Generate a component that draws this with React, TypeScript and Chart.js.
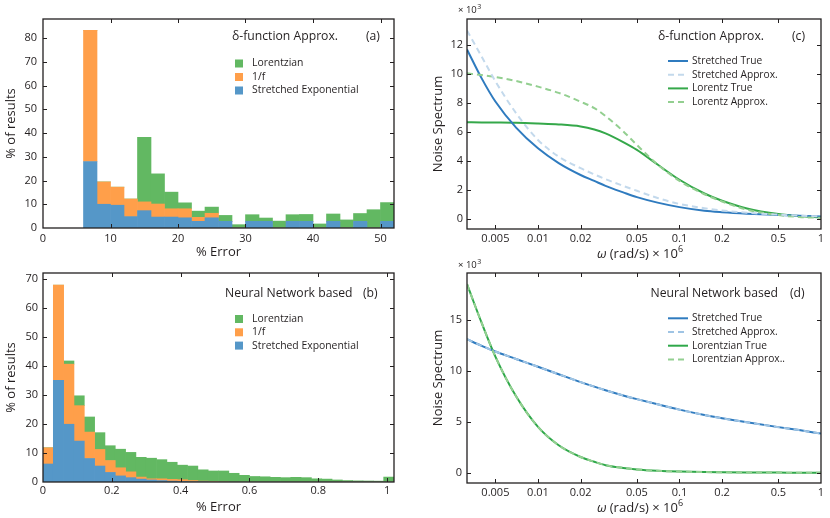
import { useEffect, useRef } from 'react';
import { Chart, registerables } from 'chart.js';

Chart.register(...registerables);

// ---------------- Panel (a): delta-function approx histogram ----------------
const histACenters = [7, 9, 11, 13, 15, 17, 19, 21, 23, 25, 27, 29, 31, 33, 35, 37, 39, 41, 43, 45, 47, 49, 51];
const histAStretched = [28.0, 10.0, 9.6, 4.8, 7.3, 4.6, 4.6, 4.3, 2.8, 4.3, 2.8, 0, 2.8, 2.8, 0, 2.8, 2.8, 0, 2.8, 0, 2.8, 0, 2.8];
const histAOneOverF = [55.2, 9.4, 7.6, 7.4, 3.7, 5.5, 3.5, 3.8, 1.7, 1.9, 0, 0, 0, 0, 0, 0, 0, 0, 0, 0, 0, 0, 0];
const histALorentzian = [0, 0, 0, 0, 27.2, 12.7, 7.0, 2.5, 2.6, 2.6, 2.5, 1.4, 2.8, 1.4, 2.9, 2.8, 2.9, 1.7, 3.1, 3.4, 3.3, 7.7, 7.9];
const histAXTicks = [0, 10, 20, 30, 40, 50];
const histAYTicks = [0, 10, 20, 30, 40, 50, 60, 70, 80];

// ---------------- Panel (b): neural network histogram ----------------
const histBCenters = [0.015, 0.045, 0.075, 0.105, 0.135, 0.165, 0.195, 0.225, 0.255, 0.285, 0.315, 0.345, 0.375, 0.405, 0.435, 0.465, 0.495, 0.525, 0.555, 0.585, 0.615, 0.645, 0.675, 0.705, 0.735, 0.765, 0.795, 0.825, 0.855, 0.885, 0.915, 0.945, 0.975, 1.005];
const histBStretched = [6.2, 35.0, 19.9, 14.1, 8.1, 5.5, 3.3, 2.1, 1.5, 1.0, 0.7, 0.5, 0.3, 0.2, 0.1, 0.1, 0, 0, 0, 0, 0, 0, 0, 0, 0, 0, 0, 0, 0, 0, 0, 0, 0, 0];
const histBOneOverF = [5.6, 32.8, 20.7, 12.2, 9.1, 5.7, 4.1, 2.8, 2.0, 0.7, 0.4, 0.6, 0.6, 0.6, 0.4, 0.2, 0.2, 0.1, 0, 0, 0, 0, 0, 0, 0, 0, 0, 0, 0, 0, 0, 0, 0, 0];
const histBLorentzian = [0, 0, 1.1, 3.4, 5.2, 5.8, 5.1, 6.4, 6.7, 6.8, 7.1, 6.6, 5.9, 5.0, 5.0, 3.9, 3.6, 3.7, 3.0, 2.3, 1.9, 1.8, 1.6, 1.5, 1.6, 1.5, 1.1, 1.0, 0.7, 0.5, 0.4, 0.35, 0.3, 1.7];
const histBXTicks = [0, 0.2, 0.4, 0.6, 0.8, 1];
const histBYTicks = [0, 10, 20, 30, 40, 50, 60, 70];

// ---------------- Panels (c), (d): noise spectra (x 10^3) ----------------
const omega = [0.00315, 0.004, 0.005, 0.007, 0.01, 0.014, 0.02, 0.025, 0.03, 0.04, 0.05, 0.07, 0.1, 0.15, 0.2, 0.3, 0.5, 0.7, 1];
const specCStretchedTrue = [11.7, 9.7, 8.1, 6.3, 4.87, 3.85, 3.03, 2.62, 2.28, 1.83, 1.5, 1.12, 0.81, 0.56, 0.46, 0.36, 0.27, 0.21, 0.17];
const specCStretchedApprox = [13.0, 11.2, 9.5, 7.3, 5.45, 4.3, 3.5, 3.07, 2.74, 2.28, 1.94, 1.44, 1.03, 0.74, 0.58, 0.42, 0.29, 0.22, 0.17];
const specCLorentzTrue = [6.67, 6.66, 6.65, 6.63, 6.58, 6.52, 6.38, 6.17, 5.9, 5.3, 4.76, 3.75, 2.7, 1.75, 1.25, 0.72, 0.33, 0.19, 0.11];
const specCLorentzApprox = [10.05, 9.93, 9.8, 9.52, 9.13, 8.7, 8.09, 7.65, 7.1, 6.05, 5.1, 3.75, 2.62, 1.7, 1.2, 0.64, 0.26, 0.13, 0.07];
const specDStretchedTrue = [13.1, 12.45, 11.9, 11.17, 10.4, 9.67, 8.9, 8.45, 8.1, 7.59, 7.23, 6.72, 6.2, 5.67, 5.35, 4.95, 4.48, 4.19, 3.85];
const specDStretchedApprox = [13.1, 12.45, 11.9, 11.17, 10.4, 9.67, 8.9, 8.45, 8.1, 7.59, 7.23, 6.72, 6.2, 5.67, 5.35, 4.95, 4.48, 4.19, 3.85];
const specDLorentzTrue = [18.5, 14.7, 11.4, 7.5, 4.5, 2.7, 1.55, 1.08, 0.75, 0.48, 0.33, 0.2, 0.12, 0.07, 0.05, 0.03, 0.02, 0.01, 0.0];
const specDLorentzApprox = [18.5, 14.7, 11.4, 7.5, 4.5, 2.7, 1.55, 1.08, 0.75, 0.48, 0.33, 0.2, 0.12, 0.07, 0.05, 0.03, 0.02, 0.01, 0.0];
const omegaTicks = [0.005, 0.01, 0.02, 0.05, 0.1, 0.2, 0.5, 1];
const specCYTicks = [0, 2, 4, 6, 8, 10, 12];
const specDYTicks = [0, 5, 10, 15];

// ---------------- styling ----------------
const FONT = '"Open Sans", Lato, "DejaVu Sans", sans-serif';
const INK = '#231f20';
const BLUE = '#5597c8';
const ORANGE = '#ff9f4a';
const GREEN = '#62b862';

const decorPlugin = {
  id: 'decor',
  afterDraw(chart: any, _args: any, o: any) {
    const { ctx, chartArea: ca } = chart;
    ctx.save();
    ctx.strokeStyle = INK;
    ctx.lineWidth = 1.3;
    ctx.strokeRect(ca.left, ca.top, ca.right - ca.left, ca.bottom - ca.top);
    const xs = chart.scales.x;
    const ys = chart.scales.y;
    const L = 4;
    ctx.lineWidth = 1;
    ctx.beginPath();
    xs.ticks.forEach((t: any) => {
      const px = Math.round(xs.getPixelForValue(t.value)) + 0.5;
      if (px < ca.left + 2 || px > ca.right - 2) return;
      ctx.moveTo(px, ca.bottom);
      ctx.lineTo(px, ca.bottom - L);
      ctx.moveTo(px, ca.top);
      ctx.lineTo(px, ca.top + L);
    });
    ys.ticks.forEach((t: any) => {
      const py = Math.round(ys.getPixelForValue(t.value)) + 0.5;
      if (py < ca.top + 2 || py > ca.bottom - 2) return;
      ctx.moveTo(ca.left, py);
      ctx.lineTo(ca.left + L, py);
      ctx.moveTo(ca.right, py);
      ctx.lineTo(ca.right - L, py);
    });
    ctx.stroke();

    ctx.fillStyle = INK;
    ctx.textBaseline = 'middle';
    ctx.textAlign = 'left';
    ctx.font = `${o.titleSize}px ${FONT}`;
    ctx.fillText(o.title, o.titleX, o.titleY);
    ctx.fillText(o.tag, o.tagX, o.titleY);

    const ds = chart.data.datasets;
    const idx = ds.map((_d: any, i: number) => i);
    if (o.reverse) idx.reverse();
    idx.forEach((di: number, row: number) => {
      const d = ds[di];
      const y = o.legendY + row * o.legendDy;
      if (o.kind === 'box') {
        ctx.fillStyle = d.backgroundColor;
        ctx.fillRect(o.swatchX, y - 4, 8, 8);
      } else {
        ctx.strokeStyle = d.borderColor;
        ctx.lineWidth = 2;
        ctx.setLineDash(d.borderDash || []);
        ctx.beginPath();
        ctx.moveTo(o.swatchX, y);
        ctx.lineTo(o.swatchX + 20, y);
        ctx.stroke();
        ctx.setLineDash([]);
      }
      ctx.fillStyle = INK;
      ctx.font = `${o.legendSize}px ${FONT}`;
      ctx.fillText(d.label, o.textX, y);
    });

    if (o.expX !== undefined) {
      ctx.font = `9.5px ${FONT}`;
      ctx.fillStyle = INK;
      const base = '\u00d7 10';
      ctx.fillText(base, o.expX, o.expY);
      const w = ctx.measureText(base).width;
      ctx.font = `7px ${FONT}`;
      ctx.fillText('3', o.expX + w + 0.5, o.expY - 3);
    }

    if (o.omegaTitleX !== undefined) {
      const parts = [
        { t: '\u03c9', f: `italic 13px ${FONT}`, dy: 0 },
        { t: ' (rad/s) \u00d7 10', f: `13px ${FONT}`, dy: 0 },
        { t: '6', f: `9px ${FONT}`, dy: -5 },
      ];
      let total = 0;
      const widths = parts.map((p) => {
        ctx.font = p.f;
        const w = ctx.measureText(p.t).width;
        total += w;
        return w;
      });
      let x = o.omegaTitleX - total / 2;
      parts.forEach((p, i) => {
        ctx.font = p.f;
        ctx.fillText(p.t, x, o.omegaTitleY + p.dy);
        x += widths[i];
      });
    }
    ctx.restore();
  },
};

function fixedTicks(values: number[]) {
  return (scale: any) => {
    scale.ticks = values.map((v) => ({ value: v }));
  };
}

function axis(opts: {
  type: string; min: number; max: number; ticks: number[]; pad: number;
  title: string; titlePad: any; fit: (s: any) => void; stacked?: boolean; showTitle?: boolean;
}) {
  return {
    type: opts.type,
    min: opts.min,
    max: opts.max,
    offset: false,
    stacked: !!opts.stacked,
    grid: { display: false, drawTicks: false },
    border: { display: false },
    afterBuildTicks: fixedTicks(opts.ticks),
    afterFit: opts.fit,
    ticks: {
      autoSkip: false,
      maxRotation: 0,
      padding: opts.pad,
      color: INK,
      font: { family: FONT, size: 11 },
      callback: (v: any) => String(v),
    },
    title: {
      display: opts.showTitle !== false,
      text: opts.title,
      color: INK,
      font: { family: FONT, size: 13 },
      padding: opts.titlePad,
    },
  };
}

function barDataset(label: string, centers: number[], values: number[], color: string) {
  return {
    label,
    data: centers.map((x, i) => ({ x, y: values[i] })),
    backgroundColor: color,
    borderWidth: 0,
    barPercentage: 1,
    categoryPercentage: 1,
  };
}

function lineDataset(label: string, values: number[], color: string, dashed: boolean) {
  return {
    label,
    data: omega.map((x, i) => ({ x, y: values[i] })),
    borderColor: color,
    backgroundColor: color,
    borderWidth: 2,
    borderDash: dashed ? [6, 4] : [],
    pointRadius: 0,
    cubicInterpolationMode: 'monotone',
    order: dashed ? 1 : 2,
  };
}

const W = 415;
const H = 262;

const PANELS = [
  {
    key: 'a', left: 0, top: 0,
    config: () => ({
      type: 'bar',
      data: {
        datasets: [
          barDataset('Stretched Exponential', histACenters, histAStretched, BLUE),
          barDataset('1/f', histACenters, histAOneOverF, ORANGE),
          barDataset('Lorentzian', histACenters, histALorentzian, GREEN),
        ],
      },
      options: {
        animation: false, responsive: false,
        layout: { padding: { left: 0, top: 19, right: 21, bottom: 0 } },
        scales: {
          x: axis({ type: 'linear', min: 0, max: 52, ticks: histAXTicks, pad: 4, title: '% Error', titlePad: { top: 0, bottom: 2 }, fit: (s) => { s.height = 34; }, stacked: true }),
          y: axis({ type: 'linear', min: 0, max: 88, ticks: histAYTicks, pad: 6, title: '% of results', titlePad: { top: 3, bottom: 0 }, fit: (s) => { s.width = 43; }, stacked: true }),
        },
        plugins: {
          legend: { display: false }, tooltip: { enabled: false },
          decor: { title: '\u03b4-function Approx.', titleX: 232, titleY: 37, tag: '(a)', tagX: 366, titleSize: 12.2, kind: 'box', reverse: true, legendY: 63.5, legendDy: 13.5, swatchX: 235, textX: 252, legendSize: 10.4 },
        },
      },
      plugins: [decorPlugin],
    }),
  },
  {
    key: 'b', left: 0, top: 256,
    config: () => ({
      type: 'bar',
      data: {
        datasets: [
          barDataset('Stretched Exponential', histBCenters, histBStretched, BLUE),
          barDataset('1/f', histBCenters, histBOneOverF, ORANGE),
          barDataset('Lorentzian', histBCenters, histBLorentzian, GREEN),
        ],
      },
      options: {
        animation: false, responsive: false,
        layout: { padding: { left: 0, top: 17, right: 21, bottom: 0 } },
        scales: {
          x: axis({ type: 'linear', min: 0, max: 1.02, ticks: histBXTicks, pad: 2, title: '% Error', titlePad: { top: 0, bottom: 2.5 }, fit: (s) => { s.height = 36; }, stacked: true }),
          y: axis({ type: 'linear', min: 0, max: 72, ticks: histBYTicks, pad: 5, title: '% of results', titlePad: { top: 3, bottom: 0 }, fit: (s) => { s.width = 43; }, stacked: true }),
        },
        plugins: {
          legend: { display: false }, tooltip: { enabled: false },
          decor: { title: 'Neural Network based', titleX: 225, titleY: 37.3, tag: '(b)', tagX: 363, titleSize: 12.2, kind: 'box', reverse: true, legendY: 63, legendDy: 13.3, swatchX: 235, textX: 252, legendSize: 10.4 },
        },
      },
      plugins: [decorPlugin],
    }),
  },
  {
    key: 'c', left: 415, top: 0,
    config: () => ({
      type: 'line',
      data: {
        datasets: [
          lineDataset('Stretched True', specCStretchedTrue, '#2f7bbf', false),
          lineDataset('Stretched Approx.', specCStretchedApprox, '#c3d9ec', true),
          lineDataset('Lorentz True', specCLorentzTrue, '#35a84a', false),
          lineDataset('Lorentz Approx.', specCLorentzApprox, '#93cf90', true),
        ],
      },
      options: {
        animation: false, responsive: false,
        layout: { padding: { left: 0, top: 19, right: 9, bottom: 0 } },
        scales: {
          x: axis({ type: 'logarithmic', min: 0.00315, max: 1, ticks: omegaTicks, pad: 3, title: '', titlePad: 0, fit: (s) => { s.height = 33; }, showTitle: false }),
          y: axis({ type: 'linear', min: -0.7, max: 13.8, ticks: specCYTicks, pad: 4, title: 'Noise Spectrum', titlePad: { top: 15.5, bottom: 0 }, fit: (s) => { s.width = 52; } }),
        },
        plugins: {
          legend: { display: false }, tooltip: { enabled: false },
          decor: { title: '\u03b4-function Approx.', titleX: 243, titleY: 37, tag: '(c)', tagX: 377, titleSize: 12.2, kind: 'line', reverse: false, legendY: 61, legendDy: 13.7, swatchX: 253, textX: 277, legendSize: 10.2, expX: 43, expY: 10, omegaTitleX: 225, omegaTitleY: 254 },
        },
      },
      plugins: [decorPlugin],
    }),
  },
  {
    key: 'd', left: 415, top: 256,
    config: () => ({
      type: 'line',
      data: {
        datasets: [
          lineDataset('Stretched True', specDStretchedTrue, '#2f7bbf', false),
          lineDataset('Stretched Approx.', specDStretchedApprox, '#9fc4e4', true),
          lineDataset('Lorentzian True', specDLorentzTrue, '#2fa84a', false),
          lineDataset('Lorentzian Approx..', specDLorentzApprox, '#93d091', true),
        ],
      },
      options: {
        animation: false, responsive: false,
        layout: { padding: { left: 0, top: 17, right: 9, bottom: 0 } },
        scales: {
          x: axis({ type: 'logarithmic', min: 0.00315, max: 1, ticks: omegaTicks, pad: 3, title: '', titlePad: 0, fit: (s) => { s.height = 35; }, showTitle: false }),
          y: axis({ type: 'linear', min: -1, max: 19.6, ticks: specDYTicks, pad: 5, title: 'Noise Spectrum', titlePad: { top: 15.5, bottom: 0 }, fit: (s) => { s.width = 52; } }),
        },
        plugins: {
          legend: { display: false }, tooltip: { enabled: false },
          decor: { title: 'Neural Network based', titleX: 235.5, titleY: 37.3, tag: '(d)', tagX: 375, titleSize: 12.2, kind: 'line', reverse: false, legendY: 62.3, legendDy: 13.7, swatchX: 253, textX: 277, legendSize: 10.2, expX: 43, expY: 9, omegaTitleX: 225, omegaTitleY: 252 },
        },
      },
      plugins: [decorPlugin],
    }),
  },
];

function Panel({ panel }: { panel: any }) {
  const ref = useRef<HTMLCanvasElement>(null);
  useEffect(() => {
    const chart = new Chart(ref.current as HTMLCanvasElement, panel.config());
    return () => chart.destroy();
  }, []);
  return (
    <canvas
      ref={ref}
      width={W}
      height={H}
      style={{ position: 'absolute', left: panel.left, top: panel.top, width: W, height: H }}
    />
  );
}

export default function App() {
  return (
    <div style={{ position: 'absolute', left: 0, top: 0, width: 830, height: 518, background: '#fff', overflow: 'hidden' }}>
      {PANELS.map((p) => (
        <Panel key={p.key} panel={p} />
      ))}
    </div>
  );
}
